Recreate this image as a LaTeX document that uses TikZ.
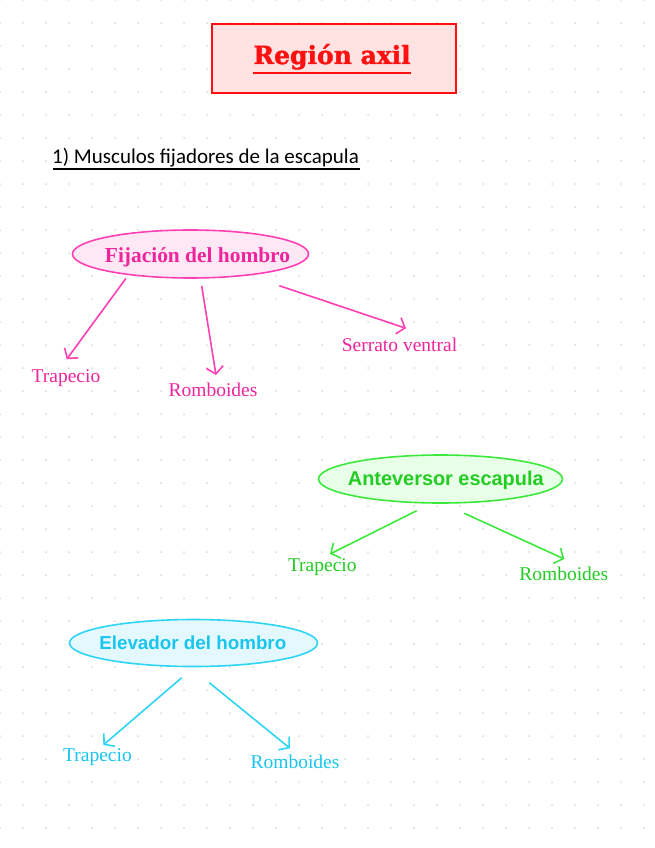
\documentclass[tikz,border=0pt]{standalone}
\usepackage{fontspec}
\setmainfont{Liberation Serif}
\newfontfamily\titlefont{DejaVu Serif}[BoldFeatures={FakeBold=1.6}]
\newfontfamily\handfont{Carlito}
\newfontfamily\sansfont{Liberation Sans}
\usetikzlibrary{shapes.geometric,arrows.meta}
\definecolor{dotc}{HTML}{DADADA}
\definecolor{titlered}{HTML}{FF1010}
\definecolor{titlefill}{HTML}{FFE3E3}
\definecolor{pinkline}{HTML}{FF40B4}
\definecolor{pinktext}{HTML}{F0259B}
\definecolor{pinkfill}{HTML}{FFE8F6}
\definecolor{greenline}{HTML}{3DE83D}
\definecolor{greentext}{HTML}{22CC22}
\definecolor{greenfill}{HTML}{E8FFE8}
\definecolor{cyanline}{HTML}{2FD5F5}
\definecolor{cyantext}{HTML}{19C5EE}
\definecolor{cyanfill}{HTML}{E4F9FF}
\tikzset{
  ell/.style={ellipse, draw, line width=1.6pt, inner sep=0pt},
  lbl/.style={font=\fontsize{19.5}{22}\selectfont, inner sep=0pt},
  arr/.style={line width=1.6pt, -{Straight Barb[length=7pt,width=17pt,line width=1.6pt]}},
}
\begin{document}
\begin{tikzpicture}[x=1pt,y=-1pt]
\useasboundingbox (0,0) rectangle (655,848);
\fill[white] (0,0) rectangle (655,848);
\foreach \i in {0,...,28}{\foreach \j in {0,...,36}{\fill[dotc] (\i*23,\j*23) circle (1);}}

% title
\node[draw=titlered, fill=titlefill, line width=1.6pt, minimum width=244pt, minimum height=69pt, inner sep=0pt] (title) at (333.8,58.8) {};
\node[text=titlered, font=\titlefont\bfseries\fontsize{25}{28}\selectfont, inner sep=0pt, anchor=base] (titletext) at (332,64) {Región axil};
\draw[titlered, line width=1.6pt] (titletext.base west) ++(0,9) coordinate (tul1) -- (titletext.base east |- tul1);

% heading
\node[font=\handfont\fontsize{21}{24}\selectfont, inner sep=0pt, anchor=base west] (head) at (52,163) {1) Musculos fijadores de la escapula};
\draw[line width=1.5pt] (53,169) coordinate (hul1) -- (360,169) coordinate (hul2);

% Fijacion
\node[ell, draw=pinkline, fill=pinkfill, minimum width=236pt, minimum height=48pt] (fij) at (190.5,254) {};
\node[text=pinktext, font=\bfseries\fontsize{21.4}{24}\selectfont, inner sep=0pt] (fijt) at (197.5,257) {Fijación del hombro};
\node[lbl, text=pinktext] (ftrap) at (66,378) {Trapecio};
\node[lbl, text=pinktext] (from) at (213,390) {Romboides};
\node[lbl, text=pinktext] (fserr) at (399.5,345) {Serrato ventral};
\coordinate (fs1) at (126,278.3); \coordinate (ft1) at (66.7,359.3);
\coordinate (fs2) at (201.7,286); \coordinate (ft2) at (216,375);
\coordinate (fs3) at (279.3,285.7); \coordinate (ft3) at (406,328.3);
\draw[arr, pinkline] (fs1) -- (ft1);
\draw[arr, pinkline] (fs2) -- (ft2);
\draw[arr, pinkline] (fs3) -- (ft3);

% Anteversor
\node[ell, draw=greenline, fill=greenfill, minimum width=244pt, minimum height=48pt] (ant) at (440.5,479) {};
\node[text=greentext, font=\sansfont\bfseries\fontsize{19.9}{22}\selectfont, inner sep=0pt] (antt) at (445.8,480) {Anteversor escapula};
\node[lbl, text=greentext] (atrap) at (322.3,567.3) {Trapecio};
\node[lbl, text=greentext] (arom) at (563.8,574) {Romboides};
\coordinate (as1) at (416.7,510.7); \coordinate (at1) at (330,554);
\coordinate (as2) at (464.3,513.3); \coordinate (at2) at (564.3,559);
\draw[arr, greenline] (as1) -- (at1);
\draw[arr, greenline] (as2) -- (at2);

% Elevador
\node[ell, draw=cyanline, fill=cyanfill, minimum width=248pt, minimum height=47pt] (elev) at (193.5,643) {};
\node[text=cyantext, font=\sansfont\bfseries\fontsize{18.8}{22}\selectfont, inner sep=0pt] (elevt) at (192.8,642.3) {Elevador del hombro};
\node[lbl, text=cyantext] (etrap) at (97.5,756.7) {Trapecio};
\node[lbl, text=cyantext] (erom) at (295,762.3) {Romboides};
\coordinate (es1) at (181.7,677.7); \coordinate (et1) at (103.3,745);
\coordinate (es2) at (209.3,682.7); \coordinate (et2) at (290,748.3);
\draw[arr, cyanline] (es1) -- (et1);
\draw[arr, cyanline] (es2) -- (et2);
\end{tikzpicture}
\end{document}
